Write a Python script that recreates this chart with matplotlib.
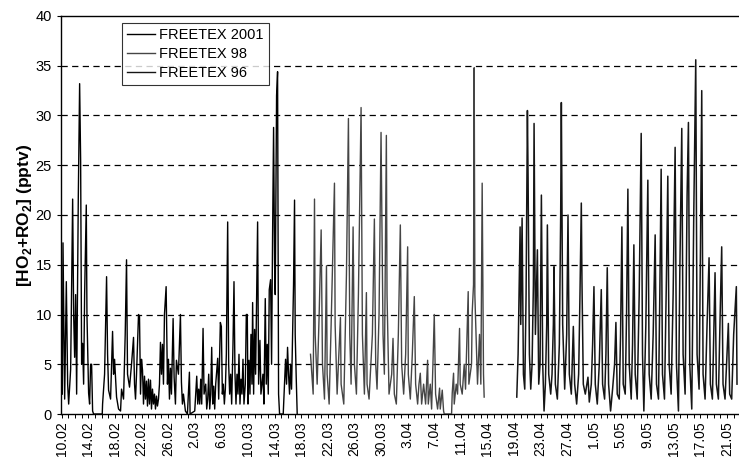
import numpy as np
import matplotlib
matplotlib.use('Agg')
import matplotlib.pyplot as plt
from matplotlib.ticker import MultipleLocator, FixedLocator

# time axis: days since 10.02
tick_labels = ['10.02', '14.02', '18.02', '22.02', '26.02', '2.03', '6.03',
               '10.03', '14.03', '18.03', '22.03', '26.03', '30.03', '3.04',
               '7.04', '11.04', '15.04', '19.04', '23.04', '27.04', '1.05',
               '5.05', '9.05', '13.05', '17.05', '21.05']

# FREETEX 2001
t_2001 = [0.1, 0.2, 0.45, 0.7, 0.9, 1.05, 1.35, 1.65, 1.8, 1.95,
          2.1, 2.25, 2.5, 2.7, 2.85, 3.0, 3.15, 3.3, 3.45, 3.7,
          3.8, 4.05, 4.2, 4.35, 4.5, 4.65, 4.8, 6.1, 6.15, 6.45,
          6.75, 6.9, 7.05, 7.35, 7.65, 7.8, 7.95, 8.25, 8.55, 8.85,
          9.0, 9.3, 9.55, 9.75, 9.9, 10.2, 10.5, 10.8, 10.95, 11.1,
          11.25, 11.55, 11.7, 11.85, 12.0, 12.15, 12.3, 12.45, 12.6, 12.75,
          12.9, 13.05, 13.2, 13.35, 13.5, 13.65, 13.8, 13.95, 14.1, 14.25,
          14.4, 14.55, 14.7, 14.85, 15.0, 15.15, 15.3, 15.45, 15.7, 15.9,
          16.05, 16.2, 16.35, 16.5, 16.75, 16.9, 17.1, 17.25, 17.55, 17.85,
          18.0, 18.15, 18.3, 18.6, 18.9, 19.2, 19.3, 20.0, 20.3, 20.45,
          20.6, 20.75, 20.9, 21.05, 21.25, 21.4, 21.65, 21.8, 21.95, 22.1,
          22.25, 22.4, 22.55, 22.7, 22.85, 23.0, 23.15, 23.45, 23.6, 23.85,
          24.0, 24.15, 24.3, 24.45, 24.6, 24.75, 24.95, 25.1, 25.25, 25.4,
          25.55, 25.75, 25.9, 26.05, 26.2, 26.35, 26.5, 26.65, 26.8, 26.95,
          27.1, 27.25, 27.4, 27.6, 27.75, 27.9, 28.0, 28.15, 28.3, 28.45,
          28.6, 28.7, 28.85, 29.0, 29.15, 29.45, 29.6, 29.8, 29.95, 30.25,
          30.4, 30.6, 30.75, 30.9, 31.05, 31.2, 31.4, 31.55, 31.7, 31.85,
          32.0, 32.1, 32.3, 32.45, 32.6, 32.75, 33.3, 33.5, 33.65, 33.8,
          33.95, 34.1, 34.25, 34.4, 34.55, 34.85, 35.0, 35.1, 35.25, 35.4]
v_2001 = [2, 17.2, 1.5, 13.3, 3, 1, 4.5, 21.6, 10, 5.7,
          12, 2, 21.8, 33.2, 25.5, 5, 7.1, 3, 12, 21,
          10, 2.1, 1, 5, 5, 0.3, 0, 0, 1, 4,
          13.8, 6, 2.4, 1.5, 8.3, 4, 5.5, 1.7, 0.5, 0.3,
          2.5, 1.5, 8, 15.5, 4, 2.7, 5, 7.7, 3, 1.5,
          4, 10, 9.8, 2, 5.5, 4.4, 1, 3.8, 1.5, 3.3,
          0.8, 3.5, 1, 3.4, 0.5, 2.5, 1, 2, 0.5, 1.8,
          0.8, 1.5, 3, 7.2, 4, 7, 3, 10, 12.8, 3,
          5.5, 1.5, 4.6, 2, 9.6, 3.7, 1, 5.4, 4, 10,
          3.2, 1, 2, 0.3, 0, 4.2, 0, 0.3, 3.8, 1,
          2.5, 1, 3.5, 1, 8.6, 2, 3, 0.5, 1.5, 4,
          0.5, 2, 6.7, 1, 2.8, 0.5, 3, 5.6, 1.5, 9.2,
          8.8, 2, 3, 1, 2.5, 6, 19.3, 5, 2, 4,
          1, 7, 13.3, 4, 1, 4, 2, 6, 1, 3.5,
          2, 5.5, 1, 3, 10, 10, 1, 5.4, 2, 8,
          3, 11.2, 2, 8.5, 4, 19.3, 3, 7.4, 2, 4,
          1, 11.6, 3, 7, 2, 12.5, 13.5, 5, 18, 28.8,
          15, 12, 32, 34.4, 2, 0, 0, 3, 5.5, 3,
          6.7, 4, 2, 5, 2.5, 13, 21.5, 8, 3.7, 0]

# FREETEX 98
t_98 = [37.4, 37.5, 37.8, 38.0, 38.1, 38.4, 38.7, 39.0, 39.2, 39.5,
        39.8, 39.9, 40.2, 40.5, 41.0, 41.1, 41.4, 41.9, 42.0, 42.4,
        42.8, 43.1, 43.3, 43.5, 43.8, 44.0, 44.3, 44.6, 45.0, 45.2,
        45.5, 45.8, 45.9, 46.2, 46.7, 47.0, 47.2, 47.4, 47.7, 48.0,
        48.3, 48.5, 48.8, 48.9, 49.2, 49.6, 49.8, 50.0, 50.3, 50.6,
        50.9, 51.1, 51.4, 51.7, 52.0, 52.1, 52.4, 52.7, 53.0, 53.2,
        53.5, 53.7, 53.9, 54.1, 54.4, 54.7, 55.0, 55.1, 55.4, 55.6,
        55.8, 56.0, 56.2, 56.5, 56.8, 56.9, 57.2, 57.4, 57.5, 58.6,
        58.7, 58.9, 59.0, 59.3, 59.5, 59.8, 59.9, 60.2, 60.5, 60.7,
        61.1, 61.2, 61.6, 61.7, 61.9, 62.0, 62.1, 62.5, 62.8, 63.0,
        63.2, 63.4, 63.5]
v_98 = [6, 5, 2, 21.6, 8, 3, 10, 18.5, 5, 1.5,
        14.9, 4, 1, 9, 23.2, 9, 2, 9.7, 3, 1,
        14, 29.7, 8, 3, 18.8, 5, 2, 12, 30.8, 8,
        2, 12.2, 3, 1.5, 8, 19.6, 5, 2.5, 10, 28.3,
        8, 4, 28, 12, 2, 4, 7.6, 2, 1, 8,
        19, 5, 2, 6, 16.8, 4, 1.5, 6, 11.8, 3,
        1, 3, 4.1, 1, 3, 1, 5.4, 1, 3, 0.5,
        5, 10, 2, 0.5, 2.6, 0.5, 2.4, 0.3, 0, 0,
        2.1, 4.1, 1, 3, 2, 8.6, 3, 2, 5, 2.5,
        12.3, 3, 5, 10.2, 13, 34.8, 12, 3, 8, 3,
        23.2, 4, 1.7]

# FREETEX 96
t_96 = [68.4, 68.6, 68.9, 69.0, 69.2, 69.4, 69.6, 69.8, 70.0, 70.1,
        70.3, 70.5, 70.7, 70.9, 71.0, 71.2, 71.5, 71.7, 71.9, 72.1,
        72.3, 72.5, 72.7, 72.9, 73.0, 73.2, 73.5, 73.7, 73.9, 74.0,
        74.2, 74.5, 74.8, 75.0, 75.1, 75.3, 75.6, 75.9, 76.1, 76.3,
        76.6, 76.9, 77.1, 77.4, 77.7, 77.9, 78.1, 78.2, 78.4, 78.7,
        79.1, 79.3, 79.6, 79.8, 80.0, 80.2, 80.5, 80.8, 81.1, 81.3,
        81.6, 81.8, 82.0, 82.2, 82.5, 82.8, 83.1, 83.3, 83.5, 83.8,
        84.0, 84.2, 84.4, 84.7, 84.9, 85.1, 85.3, 85.6, 85.8, 86.0,
        86.2, 86.5, 86.8, 87.1, 87.3, 87.5, 87.8, 88.1, 88.3, 88.6,
        88.9, 89.2, 89.4, 89.7, 89.9, 90.1, 90.3, 90.6, 90.9, 91.1,
        91.3, 91.6, 91.9, 92.2, 92.4, 92.7, 92.9, 93.2, 93.4, 93.7,
        94.0, 94.2, 94.4, 94.7, 95.0, 95.3, 95.5, 95.8, 96.0, 96.2,
        96.4, 96.7, 97.0, 97.3, 97.5, 97.8, 98.0, 98.2, 98.4, 98.7,
        99.0, 99.2, 99.4, 99.7, 100.0, 100.2, 100.4, 100.7, 101.0, 101.4,
        101.5]
v_96 = [1.7, 6, 18.8, 9, 19.7, 4, 2.5, 12, 30.5, 23.8,
        6, 2.5, 5, 13, 29.2, 8, 16.5, 3, 5, 22,
        5, 0.3, 3, 9, 19, 4, 2, 4, 9, 14.8,
        3, 1.5, 7, 20, 31.3, 9, 2.5, 8, 20, 4,
        2, 8.8, 3, 1, 4, 12, 21.2, 13.3, 3, 2,
        3.7, 1.2, 3, 7, 12.8, 3, 1, 5, 12.5, 3,
        1.5, 6, 14.7, 3, 0.3, 2.5, 5, 9.2, 2, 1.5,
        8, 18.8, 3, 2, 10, 22.6, 5, 1.5, 7, 17,
        4, 1.5, 12, 28.2, 6, 0.3, 9, 23.5, 4, 1.5,
        8, 18, 3, 1.5, 12, 24.6, 4, 1.5, 14, 23.9,
        5, 2, 12, 26.8, 5, 0.3, 14, 28.7, 6, 2,
        22, 29.3, 5, 0.5, 20, 35.6, 6, 2.5, 16, 32.5,
        4, 1.5, 9, 15.7, 3, 1.5, 8, 14.2, 3, 1.5,
        11, 16.8, 3, 1.5, 6, 9.1, 2, 1.5, 8, 12.8,
        3]


def setup_fonts():
    plt.rcParams['font.family'] = ['Liberation Sans', 'DejaVu Sans']
    plt.rcParams['mathtext.fontset'] = 'custom'
    plt.rcParams['mathtext.rm'] = 'Liberation Sans'
    plt.rcParams['mathtext.bf'] = 'Liberation Sans:bold'


def plot_series(ax):
    ax.plot(t_2001, v_2001, color='black', lw=1.0, label='FREETEX 2001', zorder=3)
    ax.plot(t_98, v_98, color='#454545', lw=1.0, label='FREETEX 98', zorder=3)
    ax.plot(t_96, v_96, color='#151515', lw=1.1, label='FREETEX 96', zorder=3)


def style_axes(ax):
    ax.set_xlim(-0.1, 101.8)
    ax.set_ylim(0, 40)
    ax.xaxis.set_major_locator(FixedLocator(np.arange(0, 4 * len(tick_labels), 4)))
    ax.set_xticklabels(tick_labels, rotation=90, fontsize=10)
    ax.xaxis.set_minor_locator(MultipleLocator(1))
    ax.yaxis.set_major_locator(MultipleLocator(5))
    ax.tick_params(axis='y', labelsize=10.5, length=3, width=0.8, direction='out')
    ax.tick_params(axis='x', which='both', length=3, width=0.7, direction='out', pad=2)
    for y in range(5, 40, 5):
        ax.axhline(y, color='black', lw=0.9, ls=(0, (5, 3.5)), zorder=1)
    ax.spines['right'].set_visible(False)
    for side in ['left', 'top', 'bottom']:
        ax.spines[side].set_linewidth(1.0)
    ax.set_ylabel(r'[HO$_{\mathbf{2}}$+RO$_{\mathbf{2}}$] (pptv)', fontsize=12.5,
                  fontweight='bold', labelpad=1.5)
    leg = ax.legend(loc='upper left', bbox_to_anchor=(0.09, 0.983), fontsize=10.5,
                    frameon=True, fancybox=False, edgecolor='black',
                    handlelength=1.9, handletextpad=0.3, borderpad=0.35,
                    labelspacing=0.35, borderaxespad=0)
    leg.get_frame().set_linewidth(0.8)
    for line in leg.get_lines():
        line.set_linewidth(1.0)


def main():
    setup_fonts()
    fig = plt.figure(figsize=(7.39, 4.66), dpi=100)
    ax = fig.add_axes([61 / 739, 52 / 466, 678 / 739, 398 / 466])
    plot_series(ax)
    style_axes(ax)
    fig.savefig('out.png', dpi=100)


if __name__ == '__main__':
    main()
